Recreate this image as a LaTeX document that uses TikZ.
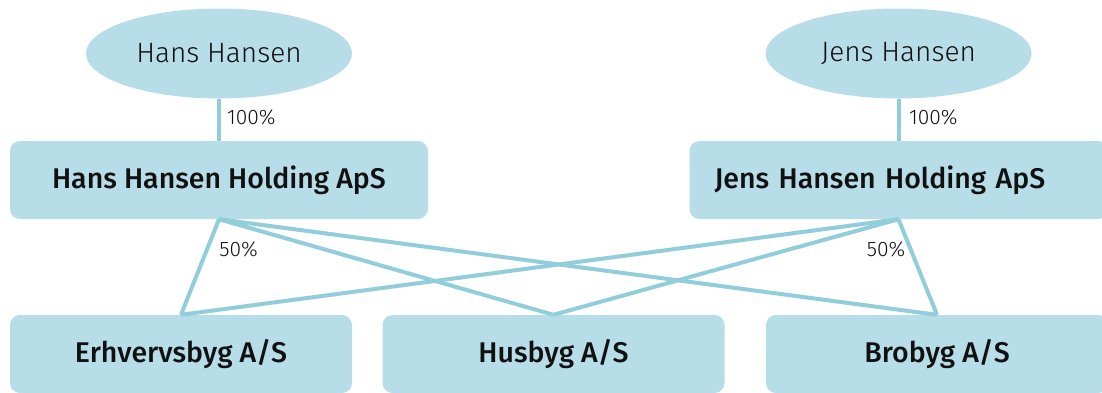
\documentclass[tikz,border=0pt]{standalone}
\usepackage{fontspec}
\setmainfont{Fira Sans}
\newfontfamily\medfont{Fira Sans Medium}
\newfontfamily\lightfont{Fira Sans Light}
\usetikzlibrary{shapes.geometric}
\definecolor{boxfill}{HTML}{B7DDE8}
\definecolor{linkcol}{HTML}{92CDDC}
\definecolor{inkcol}{HTML}{111111}
\begin{document}
\begin{tikzpicture}[x=1pt,y=-1pt,
  owner/.style={ellipse, fill=boxfill, minimum width=266pt, minimum height=90pt,
    inner sep=0pt, text=inkcol, font=\lightfont\fontsize{28}{32}\selectfont},
  company/.style={rectangle, rounded corners=10pt, fill=boxfill, minimum height=78pt,
    inner sep=0pt, text=inkcol, font=\medfont\fontsize{28.5}{32}\selectfont},
  share/.style={inner sep=0pt, text=inkcol, font=\lightfont\fontsize{21}{24}\selectfont},
  link/.style={draw=linkcol, line width=4pt}]
\useasboundingbox (0,0) rectangle (1102,392);

% owners
\node[owner] (hans) at (219,53.5) {Hans Hansen};
\node[owner] (jens) at (898.5,53.5) {Jens Hansen};

% holding companies
\node[company, minimum width=418pt] (hhold) at (219,180) {Hans Hansen Holding ApS};
\node[company, minimum width=418pt, text width=368pt, align=left, inner xsep=25pt]
  (jhold) at (898.5,180) {Jens Hansen Holding ApS};

% operating companies
\node[company, minimum width=342pt] (erhv) at (181,354) {Erhvervsbyg A/S};
\node[company, minimum width=342pt] (hus) at (553.5,354) {Husbyg A/S};
\node[company, minimum width=342pt] (bro) at (937,354) {Brobyg A/S};

% ownership links
\draw[link] (hans.south) -- (hhold.north);
\draw[link] (jens.south) -- (jhold.north);
\draw[link] (hhold.south) -- (erhv.north);
\draw[link] (hhold.south) -- (hus.north);
\draw[link] (hhold.south) -- (bro.north);
\draw[link] (jhold.south) -- (erhv.north);
\draw[link] (jhold.south) -- (hus.north);
\draw[link] (jhold.south) -- (bro.north);

% share labels
\node[share, anchor=west] (hpct) at (227,117) {100\%};
\node[share, anchor=west] (jpct) at (909,117) {100\%};
\node[share] (hhalf) at (238.5,249) {50\%};
\node[share] (jhalf) at (886,249) {50\%};
\end{tikzpicture}
\end{document}
